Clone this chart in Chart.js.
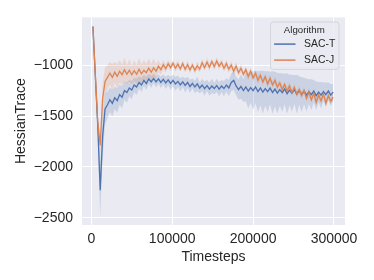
<!DOCTYPE html>
<html>
<head>
<meta charset="utf-8">
<script src="https://cdn.jsdelivr.net/npm/chart.js@4.4.0/dist/chart.umd.min.js"></script>
<style>
  body { margin: 0; background: #fff; }
  #wrap { width: 374px; height: 280px; }
</style>
</head>
<body>
<div id="wrap"><canvas id="myChart" width="374" height="280"></canvas></div>
<script>
const steps = [
  2000, 5000, 8000, 11000, 14000, 17000, 20000, 23000, 26000, 29000,
  32000, 35000, 38000, 41000, 44000, 47000, 50000, 53000, 56000, 59000,
  62000, 65000, 68000, 71000, 74000, 77000, 80000, 83000, 86000, 89000,
  92000, 95000, 98000, 101000, 104000, 107000, 110000, 113000, 116000, 119000,
  122000, 125000, 128000, 131000, 134000, 137000, 140000, 143000, 146000, 149000,
  152000, 155000, 158000, 161000, 164000, 167000, 170000, 173000, 176000, 179000,
  182000, 185000, 188000, 191000, 194000, 197000, 200000, 203000, 206000, 209000,
  212000, 215000, 218000, 221000, 224000, 227000, 230000, 233000, 236000, 239000,
  242000, 245000, 248000, 251000, 254000, 257000, 260000, 263000, 266000, 269000,
  272000, 275000, 278000, 281000, 284000, 287000, 290000, 293000, 296000, 299000
];

// SAC-T mean and half width of its band
const sacT = [
  -620, -1110, -1600, -2230, -1700, -1430, -1390, -1340, -1375, -1320,
  -1350, -1290, -1315, -1250, -1270, -1225, -1245, -1195, -1215, -1170,
  -1195, -1150, -1180, -1135, -1165, -1130, -1165, -1135, -1170, -1140,
  -1175, -1145, -1180, -1150, -1185, -1160, -1195, -1165, -1200, -1170,
  -1210, -1180, -1215, -1185, -1225, -1195, -1230, -1200, -1235, -1205,
  -1230, -1200, -1235, -1205, -1230, -1195, -1225, -1170, -1150, -1205,
  -1240, -1210, -1250, -1215, -1255, -1220, -1250, -1215, -1260, -1225,
  -1265, -1230, -1260, -1225, -1270, -1235, -1275, -1240, -1270, -1235,
  -1280, -1245, -1275, -1240, -1285, -1250, -1290, -1255, -1295, -1260,
  -1290, -1255, -1300, -1265, -1295, -1260, -1290, -1255, -1295, -1265
];
const sacTSpread = [
  20, 60, 100, 260, 200, 150, 130, 120, 130, 110,
  120, 100, 110, 90, 100, 80, 90, 70, 80, 60,
  70, 55, 65, 50, 60, 45, 55, 45, 55, 50,
  60, 50, 65, 55, 70, 55, 65, 50, 70, 55,
  65, 50, 60, 70, 55, 60, 70, 55, 65, 70,
  55, 65, 70, 60, 75, 65, 80, 85, 95, 90,
  100, 120, 110, 140, 170, 150, 190, 160, 200, 170,
  210, 170, 200, 160, 210, 170, 200, 160, 190, 150,
  200, 150, 180, 140, 190, 140, 170, 130, 160, 120,
  150, 110, 140, 100, 130, 90, 120, 85, 110, 80
];

// SAC-J mean and half width of its band
const sacJ = [
  -620, -1100, -1560, -1790, -1330, -1160, -1120, -1080, -1120, -1070,
  -1110, -1060, -1095, -1045, -1090, -1050, -1095, -1055, -1090, -1040,
  -1085, -1050, -1075, -1030, -1070, -1025, -1060, -1010, -1045, -995,
  -1035, -985, -1025, -980, -1030, -990, -1035, -985, -1040, -995,
  -1045, -1000, -1050, -1005, -1040, -975, -1025, -970, -1020, -965,
  -1015, -960, -1010, -975, -1030, -985, -1040, -1000, -1060, -1010,
  -1075, -1030, -1090, -1045, -1110, -1060, -1125, -1080, -1150, -1100,
  -1165, -1115, -1185, -1130, -1195, -1150, -1215, -1175, -1240, -1190,
  -1255, -1205, -1270, -1220, -1285, -1240, -1300, -1250, -1325, -1265,
  -1340, -1280, -1365, -1295, -1350, -1285, -1375, -1300, -1355, -1315
];
const sacJSpread = [
  20, 40, 60, 90, 150, 140, 120, 110, 130, 100,
  120, 110, 100, 120, 90, 110, 90, 100, 90, 110,
  90, 100, 85, 95, 80, 90, 70, 60, 50, 45,
  40, 35, 40, 30, 35, 40, 30, 35, 30, 40,
  35, 30, 35, 40, 30, 35, 30, 40, 35, 30,
  35, 40, 30, 35, 30, 40, 35, 40, 45, 40,
  35, 40, 30, 35, 40, 35, 30, 35, 40, 30,
  35, 30, 40, 35, 30, 35, 40, 30, 35, 30,
  35, 40, 30, 35, 30, 35, 40, 30, 35, 40,
  30, 35, 40, 30, 35, 30, 40, 35, 30, 35
];

const xTicks = [0, 100000, 200000, 300000];
const yTicks = [-2500, -2000, -1500, -1000];

const BLUE = '#4c72b0';
const ORANGE = '#dd8452';
const FONT = '"Liberation Sans", Arial, sans-serif';
const TEXT = '#262626';

const pts = (ys) => steps.map((s, i) => ({ x: s, y: ys[i] }));
const upper = (ys, sp) => steps.map((s, i) => ({ x: s, y: ys[i] + sp[i] }));
const lower = (ys, sp) => steps.map((s, i) => ({ x: s, y: ys[i] - sp[i] }));

const bandStyle = { borderWidth: 0, pointRadius: 0, tension: 0 };

const bgPlugin = {
  id: 'bg',
  beforeDraw(chart) {
    const { ctx, chartArea } = chart;
    ctx.save();
    ctx.fillStyle = '#ffffff';
    ctx.fillRect(0, 0, chart.width, chart.height);
    ctx.fillStyle = '#eaeaf2';
    ctx.fillRect(chartArea.left, chartArea.top, chartArea.right - chartArea.left, chartArea.bottom - chartArea.top);
    ctx.restore();
  }
};

const legendPlugin = {
  id: 'boxLegend',
  afterDraw(chart) {
    const { ctx, chartArea } = chart;
    const x0 = chartArea.right - 74.5, y0 = chartArea.top + 4.5;
    const w = 68.5, h = 47.5, r = 3;
    ctx.save();
    ctx.beginPath();
    ctx.roundRect(x0, y0, w, h, r);
    ctx.fillStyle = 'rgba(234,234,242,0.8)';
    ctx.fill();
    ctx.strokeStyle = '#cfcfd6';
    ctx.lineWidth = 0.8;
    ctx.stroke();

    ctx.fillStyle = TEXT;
    ctx.textBaseline = 'middle';
    ctx.textAlign = 'center';
    ctx.font = '9.7px ' + FONT;
    ctx.fillText('Algorithm', x0 + w / 2 - 0.5, y0 + 8.5);

    const items = [['SAC-T', BLUE], ['SAC-J', ORANGE]];
    items.forEach(([label, col], i) => {
      const y = y0 + 22.2 + i * 16;
      ctx.strokeStyle = col;
      ctx.lineWidth = 1.5;
      ctx.beginPath();
      ctx.moveTo(x0 + 3.6, y);
      ctx.lineTo(x0 + 25, y);
      ctx.stroke();
      ctx.fillStyle = TEXT;
      ctx.textAlign = 'left';
      ctx.font = '10.4px ' + FONT;
      ctx.fillText(label, x0 + 33.6, y);
    });
    ctx.restore();
  }
};

new Chart(document.getElementById('myChart'), {
  type: 'line',
  data: {
    datasets: [
      { label: 'SAC-T hi', data: upper(sacT, sacTSpread), fill: '+1', backgroundColor: 'rgba(76,114,176,0.2)', order: 3, ...bandStyle },
      { label: 'SAC-T lo', data: lower(sacT, sacTSpread), fill: false, order: 3, ...bandStyle },
      { label: 'SAC-J hi', data: upper(sacJ, sacJSpread), fill: '+1', backgroundColor: 'rgba(221,132,82,0.2)', order: 2, ...bandStyle },
      { label: 'SAC-J lo', data: lower(sacJ, sacJSpread), fill: false, order: 2, ...bandStyle },
      { label: 'SAC-T', data: pts(sacT), borderColor: BLUE, borderWidth: 1.3, pointRadius: 0, fill: false, order: 1 },
      { label: 'SAC-J', data: pts(sacJ), borderColor: ORANGE, borderWidth: 1.3, pointRadius: 0, fill: false, order: 0 }
    ]
  },
  options: {
    responsive: false,
    animation: false,
    events: [],
    layout: { padding: { top: 16, right: 29, left: 0, bottom: 0 } },
    plugins: { legend: { display: false }, tooltip: { enabled: false } },
    scales: {
      x: {
        type: 'linear',
        min: -11500,
        max: 313600,
        afterFit(scale) { scale.height = 55; },
        afterBuildTicks(scale) { scale.ticks = xTicks.map(v => ({ value: v })); },
        ticks: {
          padding: 6,
          color: TEXT,
          font: { family: FONT, size: 14 },
          maxRotation: 0,
          callback: (v) => String(v)
        },
        grid: { color: '#ffffff', lineWidth: 1, drawTicks: false },
        border: { display: false },
        title: {
          display: true, text: 'Timesteps', color: TEXT,
          font: { family: FONT, size: 14 },
          padding: { top: 0, bottom: 14 }
        }
      },
      y: {
        min: -2571,
        max: -531,
        afterFit(scale) { scale.width = 82; },
        afterBuildTicks(scale) { scale.ticks = yTicks.map(v => ({ value: v })); },
        ticks: {
          padding: 9,
          color: TEXT,
          font: { family: FONT, size: 14 },
          callback: (v) => String(v).replace('-', '\u2212')
        },
        grid: { color: '#ffffff', lineWidth: 1, drawTicks: false },
        border: { display: false },
        title: {
          display: true, text: 'HessianTrace', color: TEXT,
          font: { family: FONT, size: 14 },
          padding: { top: 13, bottom: 0 }
        }
      }
    }
  },
  plugins: [bgPlugin, legendPlugin]
});
</script>
</body>
</html>
